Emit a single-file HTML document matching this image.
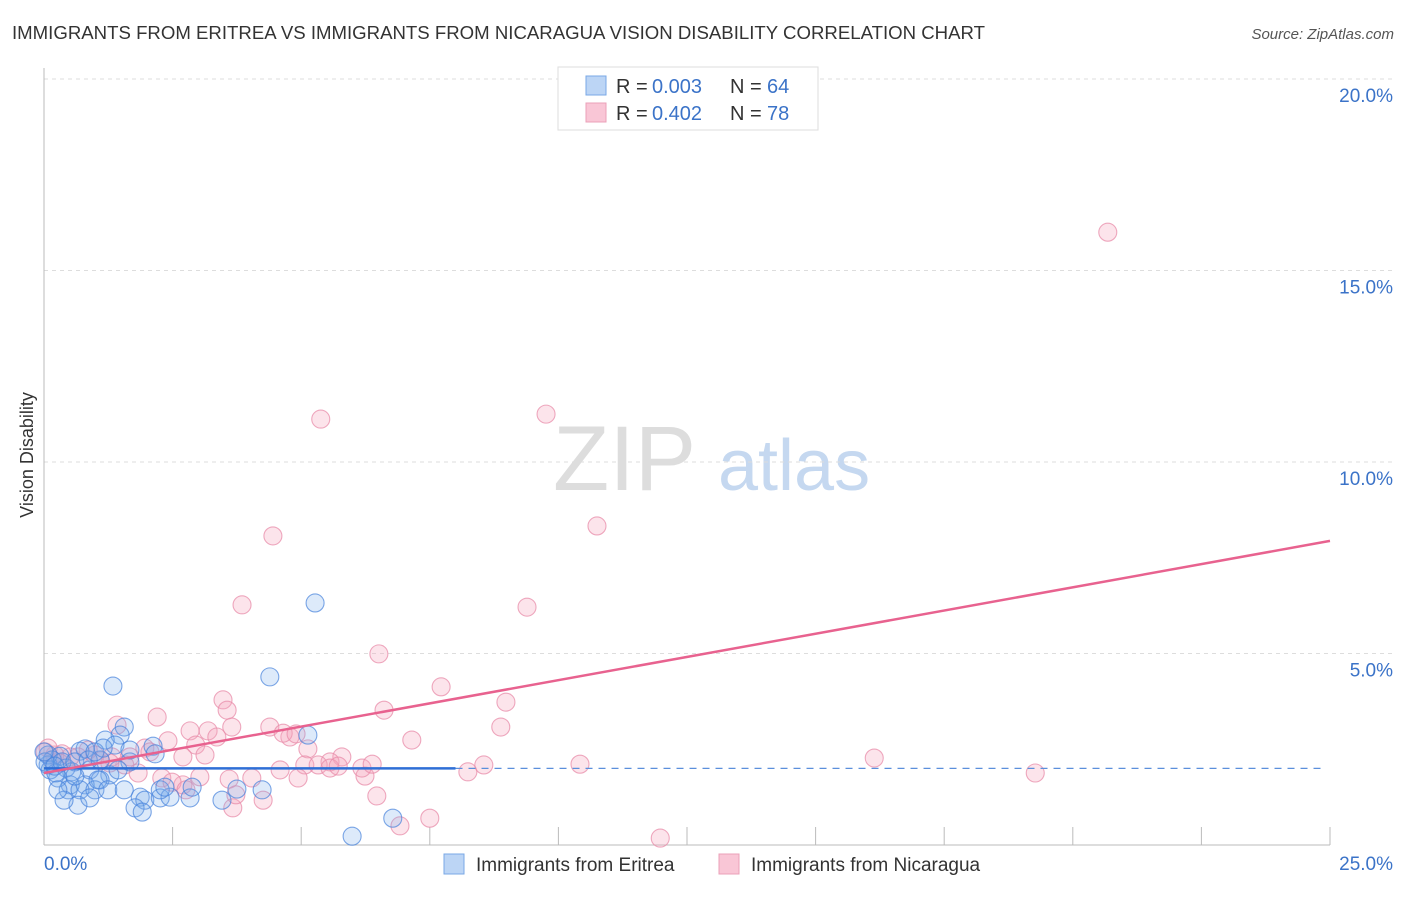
<!DOCTYPE html>
<html><head><meta charset="utf-8"><style>
body{margin:0;background:#fff;font-family:"Liberation Sans",sans-serif;}
svg text{font-family:"Liberation Sans",sans-serif;}
</style></head><body>
<svg id="c" width="1406" height="892">
<text x="12" y="39" font-size="18" fill="#333" textLength="973" lengthAdjust="spacingAndGlyphs">IMMIGRANTS FROM ERITREA VS IMMIGRANTS FROM NICARAGUA VISION DISABILITY CORRELATION CHART</text>
<text x="1394" y="39" font-size="15" fill="#555" font-style="italic" text-anchor="end">Source: ZipAtlas.com</text>
<text x="33" y="455" font-size="18" fill="#333" transform="rotate(-90 33 455)" text-anchor="middle">Vision Disability</text>
<g><text x="553" y="490" font-size="92" font-family="Liberation Serif" fill="#ddd">ZIP</text><text x="718" y="490" font-size="72" fill="#c5d8f0">atlas</text></g>
<g id="grid"></g><g id="pts"></g><g id="lines"></g>
<g>
<rect x="558" y="67" width="260" height="63" fill="#fff" stroke="#ddd"/>
<rect x="586" y="76" width="20" height="19" fill="#bcd5f5" stroke="#7aa8e6"/>
<rect x="586" y="103" width="20" height="19" fill="#f9c6d6" stroke="#eba0b8"/>
<text x="616" y="93" font-size="20" fill="#333">R =</text>
<text x="652" y="93" font-size="20" fill="#3b73c8">0.003</text>
<text x="730" y="93" font-size="20" fill="#333">N =</text>
<text x="767" y="93" font-size="20" fill="#3b73c8">64</text>
<text x="616" y="120" font-size="20" fill="#333">R =</text>
<text x="652" y="120" font-size="20" fill="#3b73c8">0.402</text>
<text x="730" y="120" font-size="20" fill="#333">N =</text>
<text x="767" y="120" font-size="20" fill="#3b73c8">78</text>
</g>
<g>
<rect x="444" y="854" width="20" height="20" fill="#bcd5f5" stroke="#7aa8e6"/>
<text x="476" y="871" font-size="19" fill="#333">Immigrants from Eritrea</text>
<rect x="719" y="854" width="20" height="20" fill="#f9c6d6" stroke="#eba0b8"/>
<text x="751" y="871" font-size="19" fill="#333">Immigrants from Nicaragua</text>
</g>
</svg>
<script>
const yTicks=[5,10,15,20];
const yTickLabels=["5.0%","10.0%","15.0%","20.0%"];
const xTicks=[2.5,5,7.5,10,12.5,15,17.5,20,22.5,25];
const blueX=[1.34,4.39,5.27,1.56,1.48,1.19,2.12,2.16,0.80,0.70,0.31,0.16,0.08,0.43,0.54,0.89,1.09,1.28,1.09,0.80,0.51,0.27,0.47,0.70,0.99,0.66,1.05,1.87,1.96,1.77,1.91,2.26,2.45,2.84,2.88,3.46,3.75,4.24,5.13,5.99,6.78,1.38,1.67,1.44,0.08,0.12,0.23,0.35,0.60,0.86,0.99,1.15,1.67,0.39,0.27,0.02,0.21,0.0,0.89,2.26,2.35,1.24,1.56,0.60];
const blueY=[4.15,4.39,6.32,3.08,2.87,2.74,2.58,2.38,2.51,2.45,2.32,2.22,2.09,2.01,1.91,1.96,2.22,1.83,1.70,1.57,1.57,1.75,1.44,1.44,1.44,1.04,1.70,1.25,1.17,0.97,0.86,1.23,1.25,1.23,1.51,1.17,1.46,1.44,2.87,0.23,0.70,2.61,2.17,1.96,2.35,1.96,1.88,2.17,2.17,2.22,2.43,2.53,2.48,1.17,1.44,2.17,2.06,2.43,1.23,1.44,1.51,1.44,1.44,1.80];
const pinkX=[20.68,5.38,9.76,10.75,4.45,3.85,9.39,6.51,7.72,8.98,6.61,8.88,3.48,3.56,2.20,1.42,3.65,4.39,2.84,3.19,3.36,2.41,2.95,4.78,4.65,4.90,5.13,5.79,5.56,5.07,4.59,4.04,3.60,2.70,3.03,2.29,2.49,2.76,1.83,1.67,1.96,2.06,1.57,1.32,0.99,0.86,0.66,0.51,0.35,0.21,0.08,0.02,0.16,0.31,6.24,6.18,6.38,5.33,5.56,3.67,4.26,3.73,6.47,6.92,7.50,11.98,8.24,8.55,10.42,16.14,19.27,4.94,5.72,7.15,3.13,1.28,2.70,1.10];
const pinkY=[16.0,11.12,11.25,8.33,8.07,6.27,6.21,4.99,4.13,3.73,3.52,3.08,3.79,3.52,3.34,3.13,3.08,3.08,2.98,2.98,2.82,2.72,2.61,2.82,2.92,2.90,2.51,2.30,2.17,2.09,1.96,1.75,1.72,1.57,1.78,1.75,1.64,1.44,1.88,2.30,2.53,2.43,2.09,2.30,2.35,2.48,2.30,2.30,2.38,2.35,2.53,2.43,2.22,2.14,1.80,2.01,2.11,2.09,2.01,0.97,1.17,1.31,1.28,0.50,0.70,0.18,1.91,2.09,2.11,2.27,1.88,1.75,2.06,2.74,2.35,2.14,2.30,2.20];
const blueTrend=[2.0,2.0];
const blueSolidEnd=8.0;
const pinkTrend=[1.88,7.94];
const X=v=>44+v*51.44, Y=v=>845-v*38.3;
const NS="http://www.w3.org/2000/svg";
function mk(tag,attrs,parent){const e=document.createElementNS(NS,tag);for(const k in attrs)e.setAttribute(k,attrs[k]);parent.appendChild(e);return e;}
const g=document.getElementById('grid');
yTicks.forEach((t,i)=>{
 const l=mk('line',{x1:44,x2:1393,y1:Y(t),y2:Y(t),stroke:'#ddd','stroke-dasharray':'4,4'},g);
 
 
 const tx=mk('text',{x:1393,y:Y(t)+23,'font-size':19,fill:'#3b73c8','text-anchor':'end'},g);
 tx.textContent=yTickLabels[i];
 
 
});
const ax=mk('line',{x1:44,x2:1330,y1:845,y2:845,stroke:'#bbb'},g);


const ay=mk('line',{x1:44,x2:44,y1:68,y2:845,stroke:'#bbb'},g);


xTicks.forEach(t=>{
 const l=mk('line',{x1:X(t),x2:X(t),y1:827,y2:845,stroke:'#bbb'},g);
 
 
});
const x0=mk('text',{x:44,y:870,'font-size':19,fill:'#3b73c8'},g);x0.textContent='0.0%';


const x1=mk('text',{x:1393,y:870,'font-size':19,fill:'#3b73c8','text-anchor':'end'},g);x1.textContent='25.0%';


const p=document.getElementById('pts');
pinkX.forEach((v,i)=>{const c=mk('circle',{cx:X(v),cy:Y(pinkY[i]),r:9,fill:'rgba(245,165,190,0.3)',stroke:'rgba(232,140,170,0.75)','stroke-width':1.1},p);
 
 });
blueX.forEach((v,i)=>{const c=mk('circle',{cx:X(v),cy:Y(blueY[i]),r:9,fill:'rgba(120,170,235,0.25)',stroke:'rgba(70,130,220,0.7)','stroke-width':1.1},p);
 
 });
const L=document.getElementById('lines');
const bt=v=>blueTrend[0]+(blueTrend[1]-blueTrend[0])*v/25;
const b1=mk('line',{x1:X(0),y1:Y(bt(0)),x2:X(blueSolidEnd),y2:Y(bt(blueSolidEnd)),stroke:'#2f6fd6','stroke-width':2.5},L);


const b2=mk('line',{x1:X(blueSolidEnd),y1:Y(bt(blueSolidEnd)),x2:X(24.9),y2:Y(bt(24.9)),stroke:'#5b8fdc','stroke-width':1.3,'stroke-dasharray':'7,6'},L);


const pl=mk('line',{x1:X(0),y1:Y(pinkTrend[0]),x2:X(25),y2:Y(pinkTrend[1]),stroke:'#e8628f','stroke-width':2.5},L);


</script>
</body></html>
